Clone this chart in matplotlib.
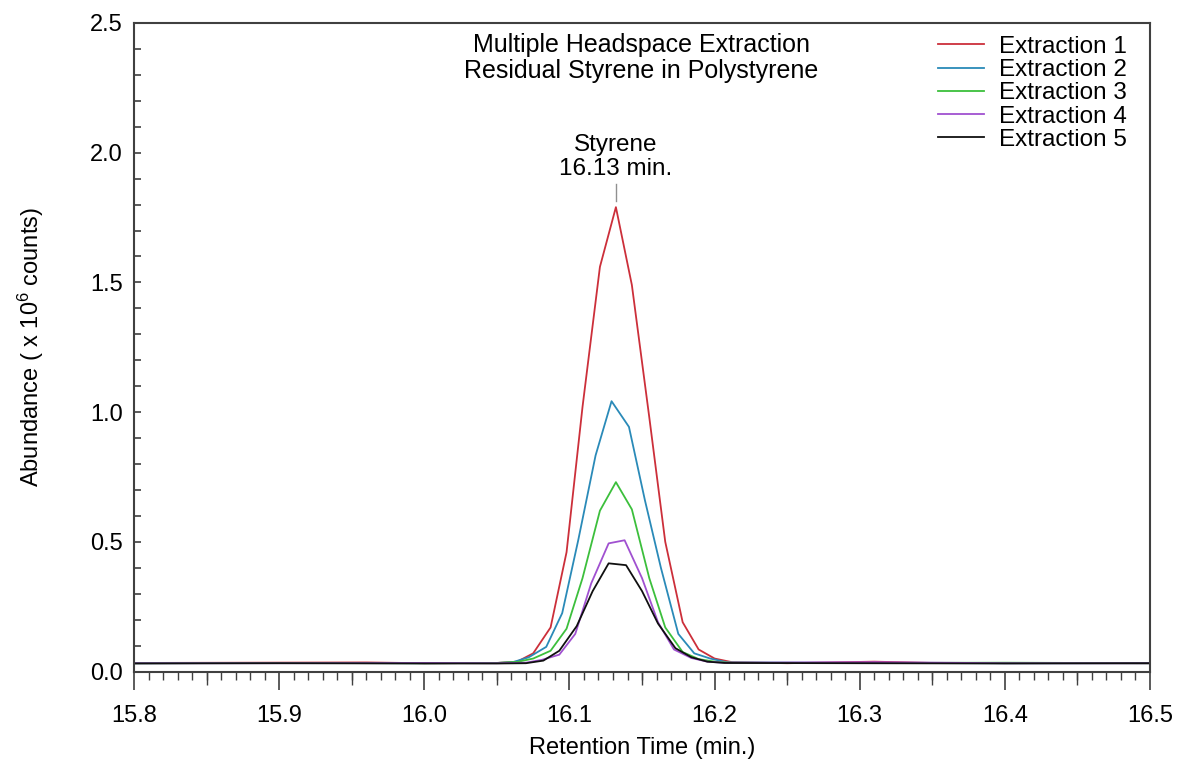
import matplotlib
matplotlib.use("Agg")
import matplotlib.pyplot as plt
from matplotlib.ticker import MultipleLocator, FormatStrFormatter

plt.rcParams['font.family'] = ['Liberation Sans', 'DejaVu Sans']
plt.rcParams['mathtext.fontset'] = 'custom'
plt.rcParams['mathtext.rm'] = 'Liberation Sans'
plt.rcParams['mathtext.it'] = 'Liberation Sans'

# retention times (min.) and abundance (x 10^6 counts)
t_ext1 = [15.80, 15.88, 15.96, 16.00, 16.05, 16.064, 16.075, 16.087, 16.098, 16.109, 16.121, 16.132,
          16.143, 16.155, 16.166, 16.178, 16.189, 16.200, 16.212, 16.25, 16.31, 16.35, 16.50]
a_ext1 = [0.033, 0.034, 0.035, 0.032, 0.033, 0.038, 0.07, 0.17, 0.46, 1.02, 1.56, 1.79,
          1.49, 0.98, 0.50, 0.19, 0.085, 0.05, 0.036, 0.032, 0.038, 0.033, 0.032]

t_ext2 = [15.80, 15.90, 16.00, 16.05, 16.061, 16.072, 16.084, 16.095, 16.106, 16.118, 16.129,
          16.141, 16.152, 16.163, 16.175, 16.186, 16.197, 16.209, 16.30, 16.40, 16.50]
a_ext2 = [0.032, 0.033, 0.032, 0.033, 0.036, 0.055, 0.095, 0.225, 0.505, 0.833, 1.042,
          0.943, 0.66, 0.40, 0.145, 0.07, 0.05, 0.035, 0.033, 0.032, 0.032]

t_ext3 = [15.80, 15.90, 16.00, 16.05, 16.064, 16.075, 16.087, 16.098, 16.109, 16.121, 16.132,
          16.143, 16.155, 16.166, 16.178, 16.189, 16.200, 16.212, 16.30, 16.40, 16.50]
a_ext3 = [0.032, 0.033, 0.032, 0.033, 0.037, 0.05, 0.08, 0.165, 0.36, 0.62, 0.73,
          0.625, 0.36, 0.17, 0.075, 0.048, 0.038, 0.034, 0.033, 0.034, 0.032]

t_ext4 = [15.80, 15.90, 16.00, 16.05, 16.070, 16.081, 16.093, 16.104, 16.115, 16.127, 16.138,
          16.150, 16.161, 16.172, 16.184, 16.195, 16.206, 16.31, 16.40, 16.50]
a_ext4 = [0.032, 0.032, 0.033, 0.032, 0.034, 0.045, 0.065, 0.145, 0.34, 0.494, 0.506,
          0.36, 0.19, 0.085, 0.052, 0.038, 0.034, 0.036, 0.032, 0.032]

t_ext5 = [15.80, 15.90, 16.00, 16.05, 16.070, 16.082, 16.093, 16.105, 16.116, 16.127, 16.139,
          16.150, 16.161, 16.173, 16.184, 16.195, 16.207, 16.30, 16.40, 16.50]
a_ext5 = [0.031, 0.032, 0.031, 0.031, 0.032, 0.042, 0.08, 0.175, 0.31, 0.417, 0.41,
          0.31, 0.185, 0.09, 0.055, 0.038, 0.033, 0.032, 0.031, 0.032]

labels = ['Extraction 1', 'Extraction 2', 'Extraction 3', 'Extraction 4', 'Extraction 5']
colors = ['#cc2f3a', '#2a8ab8', '#3cbf3c', '#a050d0', '#101010']

fig = plt.figure(figsize=(11.79, 7.63), dpi=100)
ax = fig.add_axes([0.1137, 0.1199, 0.8617, 0.85])

series = [(t_ext1, a_ext1), (t_ext2, a_ext2), (t_ext3, a_ext3), (t_ext4, a_ext4), (t_ext5, a_ext5)]
for (t, a), lab, c in zip(series, labels, colors):
    ax.plot(t, a, color=c, lw=1.3, label=lab)

ax.set_xlim(15.8, 16.5)
ax.set_ylim(0, 2.5)

ax.xaxis.set_major_locator(MultipleLocator(0.1))
ax.xaxis.set_minor_locator(MultipleLocator(0.01))
ax.yaxis.set_major_locator(MultipleLocator(0.5))
ax.yaxis.set_minor_locator(MultipleLocator(0.1))
ax.xaxis.set_major_formatter(FormatStrFormatter('%.1f'))
ax.yaxis.set_major_formatter(FormatStrFormatter('%.1f'))

ax.tick_params(axis='x', which='major', direction='out', length=13, width=1.2, color='#404040',
               labelsize=17, pad=11)
ax.tick_params(axis='x', which='minor', direction='out', length=6, width=1.0, color='#404040')
ax.tick_params(axis='y', which='both', direction='in', length=5, width=1.2, color='#404040',
               labelsize=17, pad=8)

# medium ticks every 0.05
sec = ax.secondary_xaxis('bottom')
sec.set_xticks([15.85, 15.95, 16.05, 16.15, 16.25, 16.35, 16.45])
sec.tick_params(direction='out', length=9.5, width=1.0, color='#404040', labelbottom=False)
sec.spines['bottom'].set_visible(False)

for s in ax.spines.values():
    s.set_color('#404040')
    s.set_linewidth(1.5)

ax.set_xlabel('Retention Time (min.)', fontsize=17, labelpad=7)
ax.set_ylabel('Abundance ( x 10$^{6}$ counts)', fontsize=17, labelpad=32)

ax.text(0.4995, 0.985, 'Multiple Headspace Extraction\nResidual Styrene in Polystyrene',
        transform=ax.transAxes, ha='center', va='top', fontsize=18, linespacing=1.1)

ax.text(16.132, 1.895, 'Styrene\n16.13 min.', ha='center', va='bottom', fontsize=17.5, linespacing=1.1)
ax.plot([16.132, 16.132], [1.812, 1.881], color='#909090', lw=1.0)

leg = ax.legend(loc='upper right', bbox_to_anchor=(0.977, 0.980), frameon=False, fontsize=17.5,
                handlelength=1.9, labelspacing=0.05, borderpad=0, borderaxespad=0,
                handletextpad=0.6)

fig.savefig('out.png', dpi=100)
